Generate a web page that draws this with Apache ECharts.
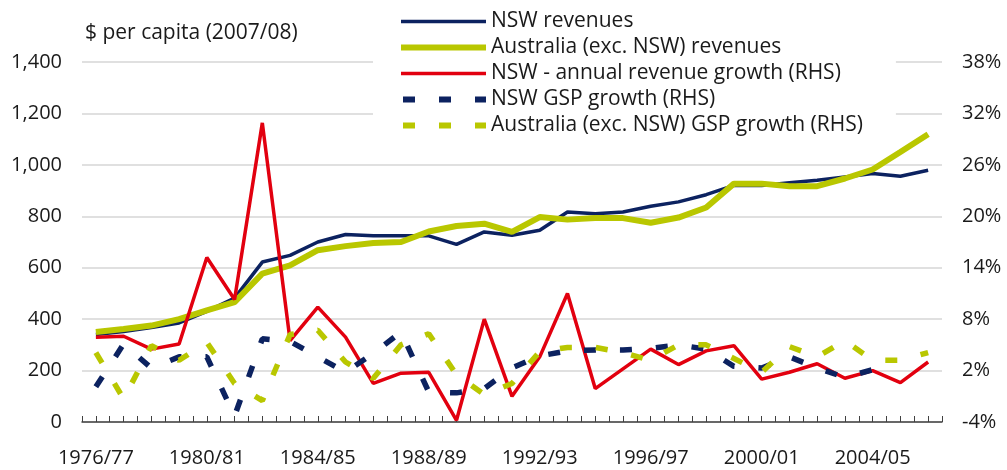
<!DOCTYPE html>
<html>
<head>
<meta charset="utf-8">
<script src="https://cdn.jsdelivr.net/npm/echarts@6/dist/echarts.min.js"></script>
<style>
  html, body { margin: 0; padding: 0; background: #fff; }
  #chart { width: 1007px; height: 470px; }
</style>
</head>
<body>
<div id="chart"></div>
<script>
// financial years on the x axis
const years = [
  '1976/77', '1977/78', '1978/79', '1979/80', '1980/81', '1981/82', '1982/83', '1983/84',
  '1984/85', '1985/86', '1986/87', '1987/88', '1988/89', '1989/90', '1990/91', '1991/92',
  '1992/93', '1993/94', '1994/95', '1995/96', '1996/97', '1997/98', '1998/99', '1999/00',
  '2000/01', '2001/02', '2002/03', '2003/04', '2004/05', '2005/06', '2006/07'
];

// $ per capita (2007/08), left axis
const nswRevenue = [340, 352, 367, 385, 430, 482, 622, 648, 700, 729, 724, 724, 724, 691, 739, 726,
  746, 817, 810, 817, 839, 856, 884, 920, 920, 930, 940, 953, 966, 956, 979];
const ausRevenue = [350, 362, 375, 400, 434, 466, 577, 609, 668, 684, 696, 700, 741, 762, 771, 739,
  797, 787, 793, 793, 775, 795, 834, 927, 927, 917, 917, 947, 982, 1050, 1119];

// growth in %, right axis
const nswRevGrowth = [5.9, 6.0, 4.5, 5.1, 15.2, 10.3, 30.9, 5.5, 9.4, 5.9, 0.5, 1.7, 1.8, -3.8, 8.0, -1.0,
  3.6, 11.0, -0.1, 2.2, 4.5, 2.7, 4.3, 4.9, 1.0, 1.8, 2.8, 1.1, 2.0, 0.6, 3.0];
const nswGsp = [0.1, 5.1, 2.3, 3.6, 3.6, -3.3, 5.7, 5.4, 3.6, 1.8, 4.0, 6.5, -0.5, -0.6, -0.1, 2.3,
  3.7, 4.3, 4.4, 4.4, 4.6, 5.0, 4.5, 2.5, 2.3, 3.6, 2.3, 1.2, 2.1, null, null];
const ausGsp = [4.1, -1.3, 4.9, 3.2, 5.3, 0.5, -1.5, 6.2, 6.7, 3.0, 1.1, 5.0, 6.3, 1.5, -0.8, 0.5,
  4.2, 4.7, 4.7, 4.1, 3.2, 5.0, 5.0, 3.4, 1.8, 4.8, 3.6, 5.5, 3.2, 3.2, 4.1];

// right hand axis tick labels
const rhsTicks = ['-4%', '2%', '8%', '14%', '20%', '26%', '32%', '38%'];

const NAVY = '#0c2260';
const GREEN = '#b9c700';
const RED = '#e2000f';
const TEXT = '#1a1a1a';
const FONT = "'Open Sans', sans-serif";

// half-year slots, only used to draw the small ticks on the x axis
const tickSlots = years.flatMap(() => ['', '']);

const chart = echarts.init(document.getElementById('chart'));

const dash = [12, 24];

chart.setOption({
  animation: false,
  textStyle: { fontFamily: FONT },
  title: {
    text: '$ per capita (2007/08)',
    left: 80,
    top: 18,
    textStyle: { fontSize: 21, fontWeight: 'normal', color: TEXT, fontFamily: FONT }
  },
  legend: {
    orient: 'vertical',
    left: 373,
    top: 6,
    padding: [5, 33, 5, 25],
    itemWidth: 85,
    itemHeight: 14,
    itemGap: 5,
    backgroundColor: '#fff',
    itemStyle: { opacity: 0 },
    textStyle: { fontSize: 21, color: TEXT, fontFamily: FONT },
    data: [
      { name: 'NSW revenues', lineStyle: { width: 3.5 } },
      { name: 'Australia (exc. NSW) revenues', lineStyle: { width: 6 } },
      { name: 'NSW - annual revenue growth (RHS)', lineStyle: { width: 3.5 } },
      { name: 'NSW GSP growth (RHS)', lineStyle: { width: 6, type: dash, dashOffset: -2 } },
      { name: 'Australia (exc. NSW) GSP growth (RHS)', lineStyle: { width: 6, type: dash, dashOffset: -2 } }
    ]
  },
  grid: { left: 82, right: 65, top: 62, bottom: 48 },
  xAxis: [
    {
      type: 'category',
      data: years,
      boundaryGap: true,
      axisLine: { onZero: false, lineStyle: { color: '#404040', width: 1.5 } },
      axisTick: { show: false },
      axisLabel: { interval: 3, margin: 26, fontSize: 20, color: TEXT, fontFamily: FONT }
    },
    {
      type: 'category',
      data: tickSlots,
      boundaryGap: true,
      position: 'bottom',
      axisLine: { show: false, onZero: false },
      axisTick: { show: true, inside: true, length: 6, interval: 0, lineStyle: { color: '#404040', width: 1 } },
      axisLabel: { show: false }
    }
  ],
  yAxis: [
    {
      type: 'value',
      min: 0,
      max: 1400,
      interval: 200,
      axisLine: { show: false },
      axisTick: { show: false },
      axisLabel: { margin: 20, fontSize: 20, color: TEXT, fontFamily: FONT,
        formatter: v => v.toLocaleString('en-US') },
      splitLine: { lineStyle: { color: '#d6d6d6', width: 1.5 } }
    },
    { type: 'value', min: -4, max: 38, show: false },
    {
      type: 'category',
      data: rhsTicks,
      position: 'right',
      boundaryGap: false,
      axisLine: { show: false },
      axisTick: { show: false },
      splitLine: { show: false },
      axisLabel: { interval: 0, margin: 20, fontSize: 20, color: TEXT, fontFamily: FONT }
    }
  ],
  series: [
    { name: 'NSW revenues', type: 'line', data: nswRevenue, yAxisIndex: 0, symbol: 'none',
      itemStyle: { color: NAVY }, lineStyle: { color: NAVY, width: 3.5 } },
    { name: 'Australia (exc. NSW) revenues', type: 'line', data: ausRevenue, yAxisIndex: 0, symbol: 'none',
      itemStyle: { color: GREEN }, lineStyle: { color: GREEN, width: 6 } },
    { name: 'NSW - annual revenue growth (RHS)', type: 'line', data: nswRevGrowth, yAxisIndex: 1, symbol: 'none',
      itemStyle: { color: RED }, lineStyle: { color: RED, width: 3.5 } },
    { name: 'NSW GSP growth (RHS)', type: 'line', data: nswGsp, yAxisIndex: 1, symbol: 'none',
      itemStyle: { color: NAVY }, lineStyle: { color: NAVY, width: 5.5, type: dash, cap: 'butt' } },
    { name: 'Australia (exc. NSW) GSP growth (RHS)', type: 'line', data: ausGsp, yAxisIndex: 1, symbol: 'none',
      itemStyle: { color: GREEN }, lineStyle: { color: GREEN, width: 5.5, type: dash, cap: 'butt' } }
  ]
});
</script>
</body>
</html>
